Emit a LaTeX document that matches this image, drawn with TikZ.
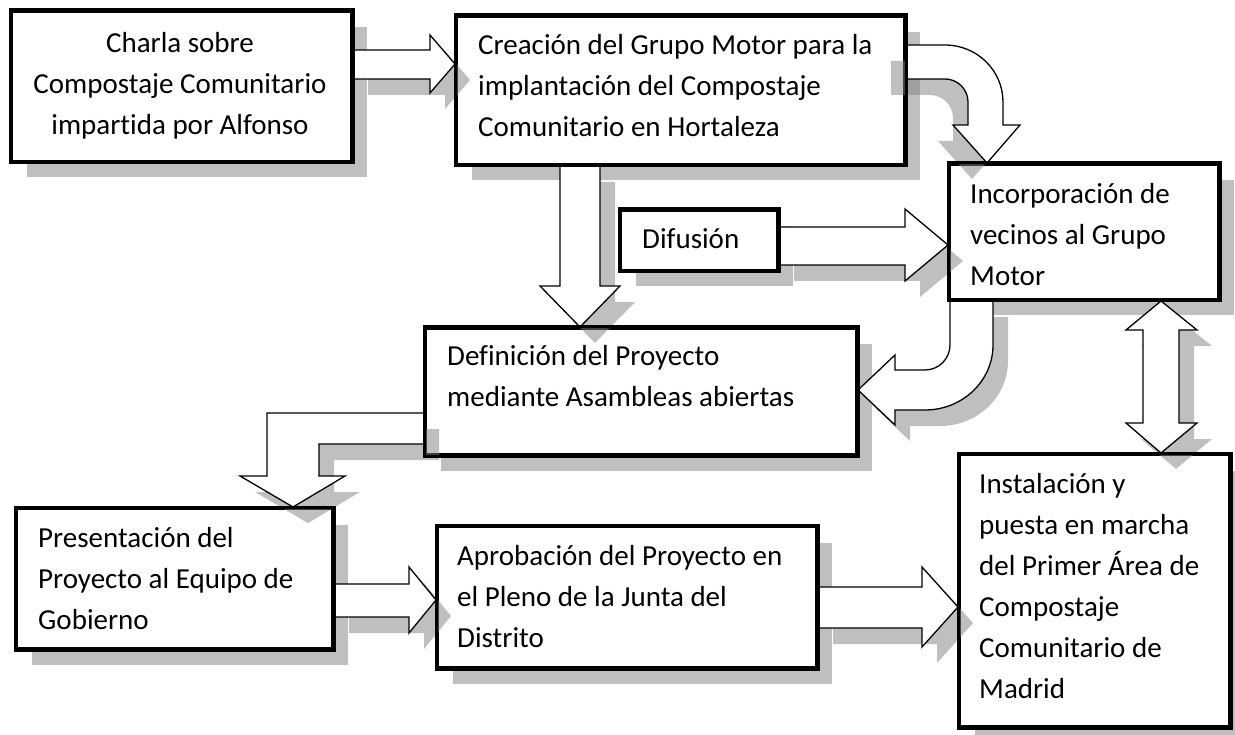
\documentclass[tikz,border=0pt]{standalone}
\usepackage{fontspec}
\setmainfont{Carlito}[Ligatures=CommonOff]
\usetikzlibrary{shadows}
\newcommand\mkbox[5]{\node[boxst, anchor=north west, minimum width={(#4)-(#2)}, minimum height={(#5)-(#3)}] (#1) at (#2,#3) {};}
\begin{document}
\begin{tikzpicture}[x=1pt,y=-1pt,
  boxst/.style={draw=black, line width=3pt, fill=white, inner sep=0pt,
    drop shadow={shadow xshift=15pt, shadow yshift=-16pt, opacity=.5, fill=black!50, draw=none}},
  boxline/.style={draw=black, line width=3pt},
  arrst/.style={draw=black, fill=white, line width=1.3pt, line join=miter},
  shR/.style={drop shadow={shadow xshift=15pt, shadow yshift=-16pt, opacity=.5, fill=black!50, draw=none}},
  shL/.style={drop shadow={shadow xshift=-15pt, shadow yshift=-16pt, opacity=.5, fill=black!50, draw=none}},
  txtst/.style={font=\fontsize{29}{41}\selectfont, inner sep=0pt, align=left, anchor=north west}]
\useasboundingbox (0,0) rectangle (1235,735);
\fill[white] (0,0) rectangle (1235,735);
% boxes
\mkbox{charla}{10}{10}{350}{160}
\mkbox{creacion}{455}{15}{903}{163}
\mkbox{incorp}{948}{163}{1217}{298}
\mkbox{difusion}{619}{209}{776}{269}
\mkbox{definicion}{424}{327}{855}{453}
\mkbox{presentacion}{15}{507}{331}{647}
\mkbox{aprobacion}{436}{525}{815}{666}
\mkbox{instalacion}{958}{453}{1228}{725}
% block arrows
\draw[arrst, shR] (charla.east |- 0,50) -- (430,50) -- (430,35) -- (creacion.west |- 0,64)
  -- (430,93) -- (430,79) -- (charla.east |- 0,79) -- cycle;
\draw[arrst, shL] (creacion.east |- 0,45) -- (945,45) .. controls (977,45) and (1003,70.5) .. (1003,102)
  -- (1003,125) -- (1020,125) -- (987,0 |- incorp.north) -- (953,125) -- (968,125) -- (968,102)
  .. controls (968,89.3) and (957.7,79) .. (945,79) -- (creacion.east |- 0,79) -- cycle;
\draw[arrst, shR] (560,0 |- creacion.south) -- (560,286) -- (540,286) -- (580,0 |- definicion.north)
  -- (620,286) -- (600,286) -- (600,0 |- creacion.south) -- cycle;
\draw[arrst, shR] (difusion.east |- 0,227) -- (905,227) -- (905,209) -- (incorp.west |- 0,245)
  -- (905,281) -- (905,265) -- (difusion.east |- 0,265) -- cycle;
\draw[arrst, shR] (950,0 |- incorp.south) -- (950,345) .. controls (950,358.8) and (938.8,370) .. (925,370)
  -- (895,370) -- (895,355) -- (definicion.east |- 0,390) -- (895,425) -- (895,410) -- (925,410)
  .. controls (962.6,410) and (993,380.9) .. (993,345) -- (993,0 |- incorp.south) -- cycle;
\draw[arrst, shR] (definicion.west |- 0,413) -- (267,413) -- (267,476) -- (240,476)
  -- (293,0 |- presentacion.north) -- (345,476) -- (319,476) -- (319,444) -- (definicion.west |- 0,444) -- cycle;
\draw[arrst, shR] (presentacion.east |- 0,584) -- (409,584) -- (409,567) -- (aprobacion.west |- 0,600)
  -- (409,633) -- (409,617) -- (presentacion.east |- 0,617) -- cycle;
\draw[arrst, shR] (aprobacion.east |- 0,587) -- (922,587) -- (922,567) -- (instalacion.west |- 0,607)
  -- (922,647) -- (922,628) -- (aprobacion.east |- 0,628) -- cycle;
\draw[arrst, shR] (1161,0 |- incorp.south) -- (1197,330) -- (1179,330) -- (1179,423) -- (1197,423)
  -- (1161,0 |- instalacion.north) -- (1126,423) -- (1143,423) -- (1143,330) -- (1126,330) -- cycle;
% borders on top
\foreach \n in {charla,creacion,incorp,difusion,definicion,presentacion,aprobacion,instalacion}
  \draw[boxline] (\n.north west) rectangle (\n.south east);
% texts
\node[txtst, anchor=north, align=center] (charlaT) at (180,23.3) {\strut Charla sobre\\Compostaje Comunitario\\impartida por Alfonso};
\node[txtst] (creacionT) at (478,25.3) {\strut Creación del Grupo Motor para la\\implantación del Compostaje\\Comunitario en Hortaleza};
\node[txtst] (incorpT) at (970,174.3) {\strut Incorporación de\\vecinos al Grupo\\Motor};
\node[txtst] (difusionT) at (642,219.3) {\strut Difusión};
\node[txtst] (definicionT) at (447,336.3) {\strut Definición del Proyecto\\mediante Asambleas abiertas};
\node[txtst] (presentacionT) at (38,518.3) {\strut Presentación del\\Proyecto al Equipo de\\Gobierno};
\node[txtst] (aprobacionT) at (457,536.3) {\strut Aprobación del Proyecto en\\el Pleno de la Junta del\\Distrito};
\node[txtst] (instalacionT) at (979,464.3) {\strut Instalación y\\puesta en marcha\\del Primer Área de\\Compostaje\\Comunitario de\\Madrid};
\end{tikzpicture}
\end{document}
